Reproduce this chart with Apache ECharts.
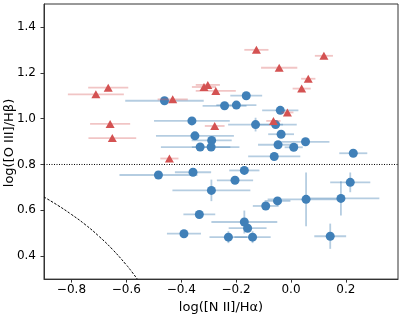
<!DOCTYPE html>
<html><head><meta charset="utf-8">
<script src="https://cdn.jsdelivr.net/npm/echarts@6/dist/echarts.min.js"></script>
<style>html,body{margin:0;padding:0;background:#fff}#c{width:403px;height:319px}</style>
</head><body><div id="c"></div>
<script>
var redX = [-0.666, -0.711, -0.431, -0.659, -0.651, -0.443, -0.317, -0.303, -0.274, -0.126, 0.120, -0.043, 0.063, 0.039, -0.013, -0.064, -0.278];
var redY = [1.135, 1.106, 1.084, 0.977, 0.915, 0.826, 1.138, 1.147, 1.121, 1.300, 1.274, 1.222, 1.174, 1.131, 1.027, 0.990, 0.968];
var redXerr = [0.073, 0.102, 0.055, 0.073, 0.087, 0.033, 0.044, 0.044, 0.073, 0.044, 0.033, 0.066, 0.026, 0.033, 0.022, 0.026, 0.036];

var blueX = [-0.461, -0.361, -0.350, -0.289, -0.331, -0.291, -0.242, -0.199, -0.163, -0.039, -0.129, -0.056, -0.036, -0.047, 0.053, 0.010, -0.061, 0.227, -0.483, -0.357, -0.170, -0.204, -0.290, 0.216, 0.055, 0.182, -0.049, -0.092, -0.334, -0.170, -0.158, -0.228, -0.140, 0.143, -0.390];
var blueY = [1.078, 0.990, 0.925, 0.905, 0.876, 0.876, 1.056, 1.059, 1.100, 1.036, 0.974, 0.974, 0.932, 0.886, 0.899, 0.875, 0.835, 0.849, 0.754, 0.766, 0.774, 0.731, 0.687, 0.722, 0.648, 0.652, 0.641, 0.619, 0.582, 0.549, 0.522, 0.483, 0.483, 0.487, 0.498];
var blueXerr = [0.143, 0.138, 0.142, 0.073, 0.143, 0.070, 0.080, 0.073, 0.058, 0.066, 0.100, 0.077, 0.047, 0.073, 0.087, 0.033, 0.095, 0.051, 0.142, 0.066, 0.055, 0.066, 0.142, 0.073, 0.140, 0.140, 0.047, 0.047, 0.058, 0.120, 0.069, 0.069, 0.066, 0.058, 0.062];
var blueYerr = [0, 0, 0, 0, 0, 0, 0, 0, 0, 0, 0.030, 0, 0, 0, 0, 0, 0, 0, 0, 0, 0, 0, 0.047, 0.043, 0.117, 0.075, 0, 0, 0, 0.050, 0, 0.026, 0.026, 0.055, 0];

var curveX = [-0.90, -0.85, -0.80, -0.75, -0.70, -0.65, -0.60, -0.58, -0.56];
var curveY = [0.658, 0.622, 0.582, 0.538, 0.487, 0.429, 0.362, 0.332, 0.300];

var xTicks = [-0.8, -0.6, -0.4, -0.2, 0.0, 0.2];
var yTicks = [0.4, 0.6, 0.8, 1.0, 1.2, 1.4];
var divLine = 0.8;
var xTitle = 'log([N II]/H\u03b1)';
var yTitle = 'log([O III]/H\u03b2)';

function zip(a, b, c, d) { return a.map(function (v, i) { return [v, b[i], c ? c[i] : 0, d ? d[i] : 0]; }); }
function fmt(v) { return (v < 0 ? '\u2212' : '') + Math.abs(v).toFixed(1); }

function errBars(color) {
  return function (params, api) {
    var x = api.value(0), y = api.value(1), xe = api.value(2), ye = api.value(3);
    var children = [];
    var st = { stroke: color, lineWidth: 1.8 };
    if (xe > 0) {
      var a = api.coord([x - xe, y]), b = api.coord([x + xe, y]);
      children.push({ type: 'line', shape: { x1: a[0], y1: a[1], x2: b[0], y2: b[1] }, style: st });
    }
    if (ye > 0) {
      var c = api.coord([x, y - ye]), d = api.coord([x, y + ye]);
      children.push({ type: 'line', shape: { x1: c[0], y1: c[1], x2: d[0], y2: d[1] }, style: st });
    }
    return { type: 'group', children: children };
  };
}

var font = 'DejaVu Sans';
var chart = echarts.init(document.getElementById('c'), null, { renderer: 'canvas' });
chart.setOption({
  animation: false,
  backgroundColor: '#fff',
  grid: { left: 44, right: 5, top: 4, bottom: 37, show: true, borderColor: '#333', borderWidth: 1 },
  graphic: [{
    type: 'text', x: 9.5, y: 143, rotation: Math.PI / 2,
    style: { text: yTitle, font: '13px "DejaVu Sans"', fill: '#000', align: 'center', verticalAlign: 'middle' }
  }],
  xAxis: {
    type: 'value', min: -0.9, max: 0.39,
    name: xTitle, nameLocation: 'middle', nameGap: 17,
    nameTextStyle: { fontFamily: font, fontSize: 13, color: '#000' },
    axisLine: { show: true, onZero: false, lineStyle: { color: '#333' } },
    axisTick: { show: true, length: 3.5, lineStyle: { color: '#333' }, customValues: xTicks },
    axisLabel: { fontFamily: font, fontSize: 12, color: '#000', margin: 5, customValues: xTicks, formatter: fmt },
    splitLine: { show: false }
  },
  yAxis: {
    type: 'value', min: 0.3, max: 1.5,
    axisLine: { show: true, onZero: false, lineStyle: { color: '#333' } },
    axisTick: { show: true, length: 3.5, lineStyle: { color: '#333' }, customValues: yTicks },
    axisLabel: { fontFamily: font, fontSize: 12, color: '#000', margin: 8, customValues: yTicks, formatter: fmt },
    splitLine: { show: false }
  },
  series: [
    {
      type: 'line', data: zip(curveX, curveY).map(function (p) { return [p[0], p[1]]; }),
      smooth: true, showSymbol: false, symbol: 'none',
      lineStyle: { color: '#000', width: 1, type: [2.5, 1.5] }, z: 1
    },
    {
      type: 'line', data: [[-0.9, divLine], [0.39, divLine]], showSymbol: false, symbol: 'none',
      lineStyle: { color: '#000', width: 1, type: [1, 1.5] }, z: 1
    },
    { type: 'custom', renderItem: errBars('rgba(70,130,180,0.4)'), data: zip(blueX, blueY, blueXerr, blueYerr), z: 2 },
    {
      type: 'scatter', data: zip(blueX, blueY).map(function (p) { return [p[0], p[1]]; }),
      symbol: 'circle', symbolSize: 9, itemStyle: { color: '#4080b8', opacity: 1 }, z: 3
    },
    { type: 'custom', renderItem: errBars('rgba(214,90,90,0.35)'), data: zip(redX, redY, redXerr), z: 4 },
    {
      type: 'scatter', data: zip(redX, redY).map(function (p) { return [p[0], p[1]]; }),
      symbol: 'triangle', symbolSize: [9, 8], itemStyle: { color: '#d45252', opacity: 1 }, z: 5
    }
  ]
});
</script></body></html>
